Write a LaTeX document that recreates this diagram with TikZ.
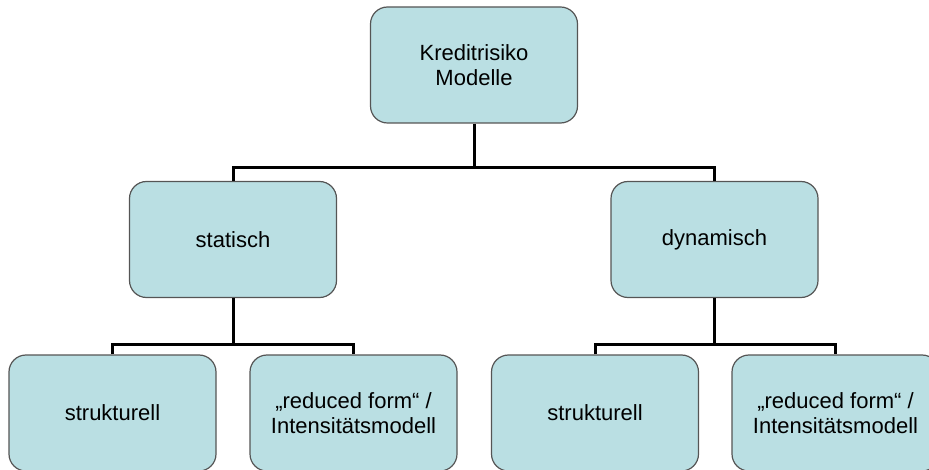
\documentclass[tikz,border=0pt]{standalone}
\usepackage{fontspec}
\setmainfont{Liberation Sans}
\definecolor{boxfill}{RGB}{186,223,227}
\definecolor{boxline}{RGB}{85,85,85}
\begin{document}
\begin{tikzpicture}[x=1pt,y=-1pt,
  box/.style={draw=boxline, line width=1.2pt, fill=boxfill, rounded corners=17pt,
    minimum width=207pt, minimum height=116pt, align=center, inner sep=0pt,
    font=\fontsize{22}{25.5}\selectfont},
  conn/.style={draw=black, line width=3pt}]
\useasboundingbox (0,0) rectangle (929,470);
\clip (0,0) rectangle (929,470);
\node[box] (top) at (474,65) {Kreditrisiko\\Modelle};
\node[box] (stat) at (233,239.5) {statisch};
\node[box] (dyn) at (714.5,239.5) {dynamisch};
\node[box] (s1) at (112.5,413) {strukturell};
\node[box] (r1) at (353.5,413) {„reduced form“ /\\Intensitätsmodell};
\node[box] (s2) at (595,413) {strukturell};
\node[box] (r2) at (835.5,413) {„reduced form“ /\\Intensitätsmodell};
\coordinate (j1) at (474,168);
\coordinate (j2) at (233,344);
\coordinate (j3) at (714.5,344);
\draw[conn] (top.south) -- (j1);
\draw[conn] (stat.north) |- (j1) -| (dyn.north);
\draw[conn] (stat.south) -- (j2);
\draw[conn] (s1.north) |- (j2) -| (r1.north);
\draw[conn] (dyn.south) -- (j3);
\draw[conn] (s2.north) |- (j3) -| (r2.north);
\end{tikzpicture}
\end{document}
